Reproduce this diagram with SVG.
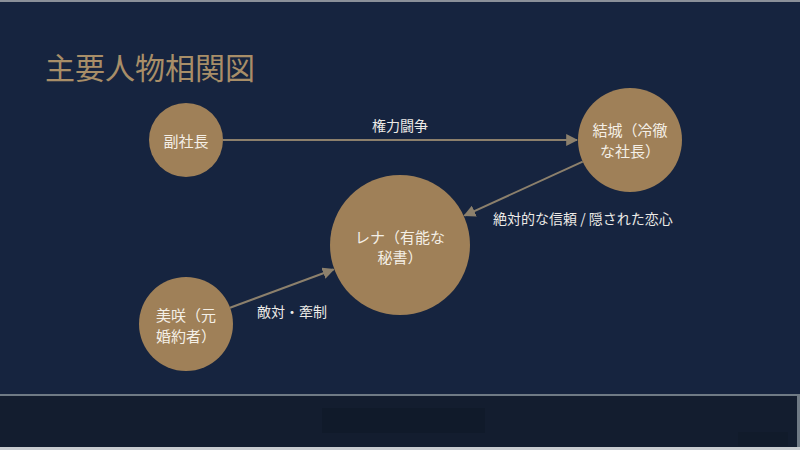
<svg xmlns="http://www.w3.org/2000/svg" width="800" height="450" viewBox="0 0 800 450">
<defs>
<style>
.bg{fill:#16243f}
.node{fill:#9f8058}
.ntext{font-family:"Noto Sans CJK JP","Noto Sans",sans-serif;font-size:15px;fill:#f4efe6;text-anchor:middle}
.ltext{font-family:"Noto Sans CJK JP","Noto Sans",sans-serif;font-size:14px;fill:#eceae6}
.edge{stroke:#8c806c;stroke-width:2;fill:none}
.title{font-family:"Noto Sans CJK JP","Noto Sans",sans-serif;font-size:30px;fill:#a88e68}
</style>
<marker id="arr" viewBox="0 0 10 10" refX="9" refY="5" markerWidth="6" markerHeight="6" orient="auto" markerUnits="strokeWidth">
<path d="M0,0 L10,5 L0,10 z" fill="#8c806c"/>
</marker>
</defs>
<rect class="bg" x="0" y="0" width="800" height="450"/>
<rect x="0" y="0" width="800" height="2" fill="#8a9099"/>
<rect x="0" y="395" width="800" height="55" fill="#131d2f"/>
<rect x="0" y="394" width="800" height="2" fill="#6f7a85"/>
<rect x="322" y="408" width="163" height="25" fill="#101a2a"/>
<rect x="738" y="432" width="50" height="14" fill="#111b2b"/>
<rect x="797" y="395" width="3" height="55" fill="#6f7a85"/>
<rect x="0" y="447" width="800" height="3" fill="#c8ccd0"/>
<text class="title" x="45" y="79">主要人物相関図</text>
<g id="edges">
<line class="edge" x1="223" y1="140" x2="577" y2="140" marker-end="url(#arr)"/>
<line class="edge" x1="582.7" y1="161.6" x2="464.5" y2="215.6" marker-end="url(#arr)"/>
<line class="edge" x1="230" y1="307.7" x2="333.5" y2="269.5" marker-end="url(#arr)"/>
<text class="ltext" x="400" y="131" text-anchor="middle">権力闘争</text>
<text class="ltext" x="493" y="224">絶対的な信頼 / 隠された恋心</text>
<text class="ltext" x="257" y="317">敵対・牽制</text>
</g>
<g id="n-fukushacho">
<circle class="node" cx="186" cy="140" r="37"/>
<text class="ntext" x="186" y="147">副社長</text>
</g>
<g id="n-yuki">
<circle class="node" cx="630" cy="140" r="52"/>
<text class="ntext" x="630" y="136">結城（冷徹</text>
<text class="ntext" x="630" y="157">な社長）</text>
</g>
<g id="n-rena">
<circle class="node" cx="400" cy="245" r="70"/>
<text class="ntext" x="400" y="243">レナ（有能な</text>
<text class="ntext" x="400" y="263">秘書）</text>
</g>
<g id="n-misaki">
<circle class="node" cx="186" cy="324" r="47"/>
<text class="ntext" x="186" y="321">美咲（元</text>
<text class="ntext" x="186" y="342">婚約者）</text>
</g>
</svg>
